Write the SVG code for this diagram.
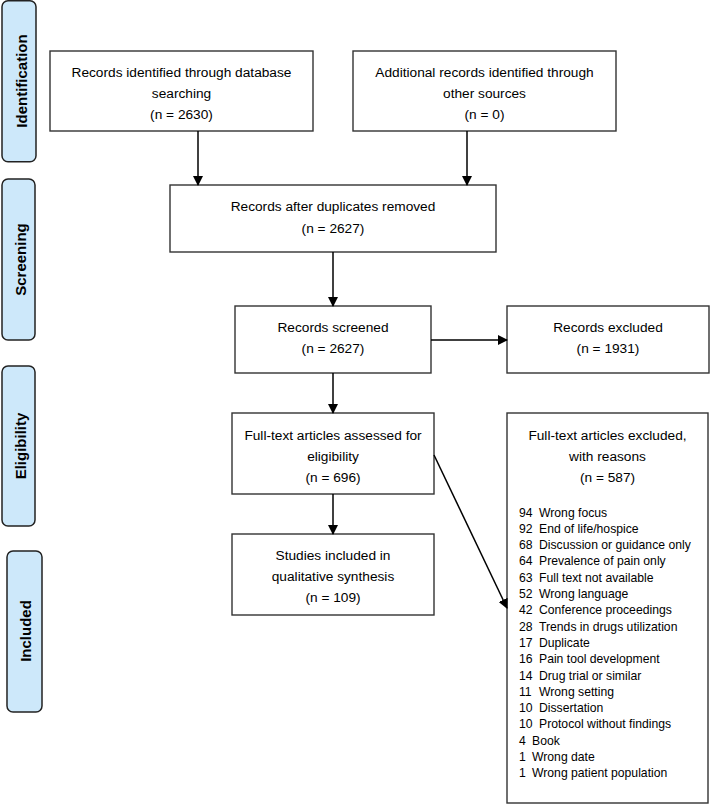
<svg xmlns="http://www.w3.org/2000/svg" width="710" height="805" viewBox="0 0 710 805">
<style>
.side{fill:#cde8fa;stroke:#222;stroke-width:1.5}
.box{fill:#fff;stroke:#333;stroke-width:1.4}
.st{font-family:"Liberation Sans",Arial,sans-serif;font-weight:bold;font-size:15px;fill:#000;text-anchor:middle;dominant-baseline:central}
.t{font-family:"Liberation Sans",Arial,sans-serif;font-size:13.7px;fill:#000;text-anchor:middle}
.l{font-family:"Liberation Sans",Arial,sans-serif;font-size:12.2px;fill:#000}
.c{stroke:#000;stroke-width:1.5;fill:none}
</style>
<defs>
<marker id="ah" markerWidth="10" markerHeight="10" refX="9" refY="5" orient="auto" markerUnits="userSpaceOnUse">
<path d="M0,0 L10,5 L0,10 Z" fill="#000"/>
</marker>
</defs>
<g id="phase-identification">
<rect class="side" x="2" y="0.8" width="34" height="161" rx="6"/>
<text class="st" transform="translate(21,81) rotate(-90)">Identification</text>
</g>
<g id="phase-screening">
<rect class="side" x="2" y="179" width="33" height="161" rx="6"/>
<text class="st" transform="translate(20,259.5) rotate(-90)">Screening</text>
</g>
<g id="phase-eligibility">
<rect class="side" x="2" y="366" width="33" height="160" rx="6"/>
<text class="st" transform="translate(20,446) rotate(-90)">Eligibility</text>
</g>
<g id="phase-included">
<rect class="side" x="7" y="551" width="35" height="161" rx="6"/>
<text class="st" transform="translate(25,631) rotate(-90)">Included</text>
</g>
<g id="db-records">
<rect class="box" x="50" y="51" width="263" height="80"/>
<text class="t" x="181.5" y="77">Records identified through database</text>
<text class="t" x="181.5" y="98">searching</text>
<text class="t" x="181.5" y="119">(n = 2630)</text>
</g>
<g id="other-records">
<rect class="box" x="353" y="51" width="263" height="80"/>
<text class="t" x="484.5" y="77">Additional records identified through</text>
<text class="t" x="484.5" y="98">other sources</text>
<text class="t" x="484.5" y="119">(n = 0)</text>
</g>
<g id="dedup">
<rect class="box" x="170" y="185" width="326" height="67"/>
<text class="t" x="333" y="211">Records after duplicates removed</text>
<text class="t" x="333" y="233">(n = 2627)</text>
</g>
<g id="screened">
<rect class="box" x="235" y="306" width="196" height="67"/>
<text class="t" x="333" y="332">Records screened</text>
<text class="t" x="333" y="353">(n = 2627)</text>
</g>
<g id="excluded">
<rect class="box" x="507" y="306" width="202" height="67"/>
<text class="t" x="608" y="332">Records excluded</text>
<text class="t" x="608" y="353">(n = 1931)</text>
</g>
<g id="fulltext">
<rect class="box" x="232" y="413" width="202" height="81"/>
<text class="t" x="333" y="440">Full-text articles assessed for</text>
<text class="t" x="333" y="461">eligibility</text>
<text class="t" x="333" y="482">(n = 696)</text>
</g>
<g id="included">
<rect class="box" x="232" y="534" width="202" height="81"/>
<text class="t" x="333" y="560">Studies included in</text>
<text class="t" x="333" y="581">qualitative synthesis</text>
<text class="t" x="333" y="602">(n = 109)</text>
</g>
<g id="fulltext-excluded">
<rect class="box" x="507" y="413" width="201" height="390"/>
<text class="t" x="607.5" y="440">Full-text articles excluded,</text>
<text class="t" x="607.5" y="461">with reasons</text>
<text class="t" x="607.5" y="482">(n = 587)</text>
<text class="l" x="519" y="516.5">94<tspan x="539">Wrong focus</tspan></text>
<text class="l" x="519" y="532.8">92<tspan x="539">End of life/hospice</tspan></text>
<text class="l" x="519" y="549.1">68<tspan x="539">Discussion or guidance only</tspan></text>
<text class="l" x="519" y="565.4">64<tspan x="539">Prevalence of pain only</tspan></text>
<text class="l" x="519" y="581.7">63<tspan x="539">Full text not available</tspan></text>
<text class="l" x="519" y="598">52<tspan x="539">Wrong language</tspan></text>
<text class="l" x="519" y="614.3">42<tspan x="539">Conference proceedings</tspan></text>
<text class="l" x="519" y="630.6">28<tspan x="539">Trends in drugs utilization</tspan></text>
<text class="l" x="519" y="646.9">17<tspan x="539">Duplicate</tspan></text>
<text class="l" x="519" y="663.2">16<tspan x="539">Pain tool development</tspan></text>
<text class="l" x="519" y="679.5">14<tspan x="539">Drug trial or similar</tspan></text>
<text class="l" x="519" y="695.8">11<tspan x="539">Wrong setting</tspan></text>
<text class="l" x="519" y="712.1">10<tspan x="539">Dissertation</tspan></text>
<text class="l" x="519" y="728.4">10<tspan x="539">Protocol without findings</tspan></text>
<text class="l" x="519" y="744.7">4<tspan x="532">Book</tspan></text>
<text class="l" x="519" y="761">1<tspan x="532">Wrong date</tspan></text>
<text class="l" x="519" y="777.3">1<tspan x="532">Wrong patient population</tspan></text>
</g>
<g id="connectors">
<line class="c" x1="198" y1="131" x2="198" y2="185" marker-end="url(#ah)"/>
<line class="c" x1="467" y1="131" x2="467" y2="185" marker-end="url(#ah)"/>
<line class="c" x1="333" y1="252" x2="333" y2="306" marker-end="url(#ah)"/>
<line class="c" x1="431" y1="340" x2="507" y2="340" marker-end="url(#ah)"/>
<line class="c" x1="333" y1="373" x2="333" y2="413" marker-end="url(#ah)"/>
<line class="c" x1="333" y1="494" x2="333" y2="534" marker-end="url(#ah)"/>
<line class="c" x1="434" y1="455" x2="507" y2="608" marker-end="url(#ah)"/>
</g>
</svg>
